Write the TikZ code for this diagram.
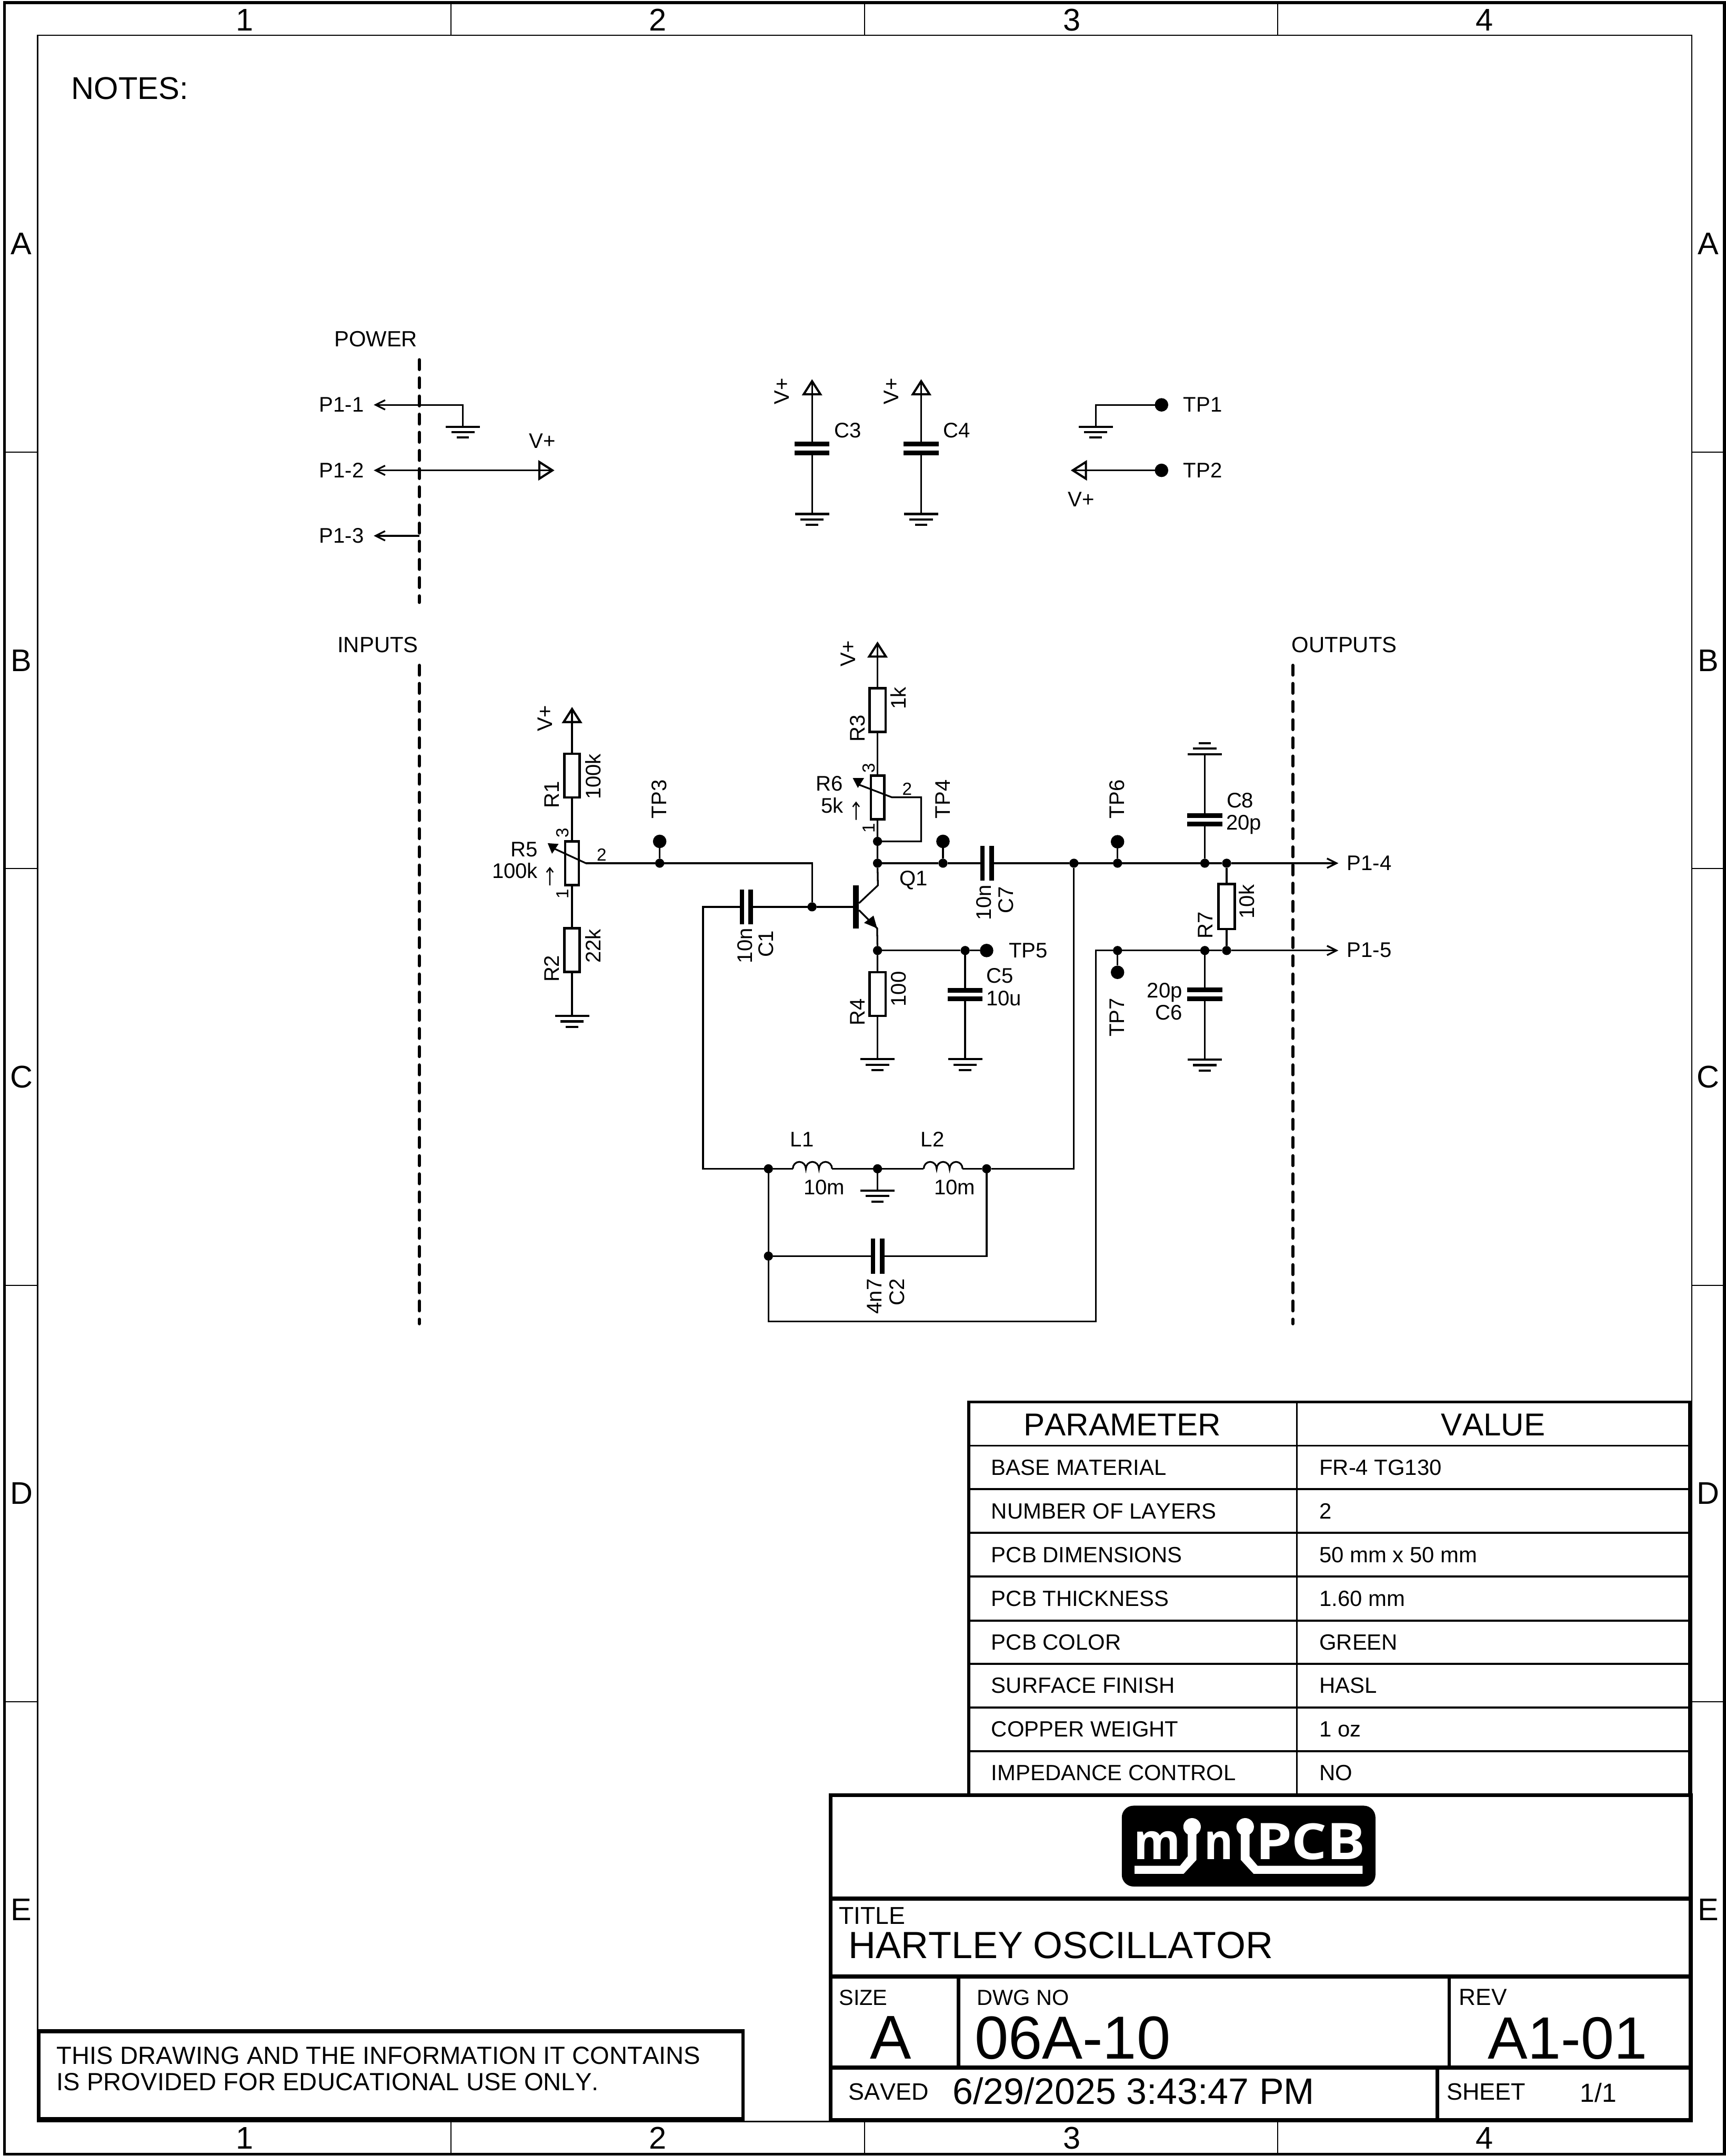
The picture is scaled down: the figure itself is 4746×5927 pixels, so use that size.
\documentclass[tikz,border=0pt]{standalone}
\usepackage{fontspec}
\usepackage{graphicx}
\setmainfont[Kerning=Off]{Liberation Sans}
\newfontfamily\logofont{Open Sans}
\newcommand\pxf[1]{\fontsize{\fpeval{#1*0.28453}}{\fpeval{#1*0.3}}\selectfont}
\tikzset{
  txt/.style={inner sep=0pt,outer sep=0pt,text=black},
  big/.style={txt,font=\pxf{86.5}},
  lab/.style={txt,font=\pxf{58}},
  seclab/.style={txt,font=\pxf{60.5}},
  pinlab/.style={txt,font=\pxf{48}},
  tab/.style={txt,font=\pxf{60.5},anchor=base west},
  tbs/.style={txt,font=\pxf{65},anchor=base west},
  huge/.style={txt,font=\pxf{167},anchor=base west},
  wire/.style={line width=1.35pt,line join=miter},
  thinframe/.style={line width=1.15pt},
  tick/.style={line width=.85pt},
  outerframe/.style={line width=2.2pt},
  heavy/.style={line width=3.2pt},
  medium/.style={line width=2.8pt},
  tableline/.style={line width=1.5pt},
  tableedge/.style={line width=2.3pt},
  dashline/.style={line width=2.5pt,line cap=round,dash pattern=on 7.6pt off 6.6pt},
  jn/.style={circle,fill=black,inner sep=0pt,outer sep=0pt,minimum size=.25cm},
  tpdot/.style={circle,fill=black,inner sep=0pt,outer sep=0pt,minimum size=.37cm},
  resv/.style={rectangle,draw=black,line width=1.8pt,fill=white,inner sep=0pt,outer sep=0pt,minimum width=.42cm,minimum height=1.2cm},
  pot/.style={resv,minimum width=.37cm},
  plateh/.style={rectangle,fill=black,inner sep=0pt,outer sep=0pt,minimum width=.96cm,minimum height=.13cm},
  platev/.style={rectangle,fill=black,inner sep=0pt,outer sep=0pt,minimum width=.12cm,minimum height=.96cm},
  gndline/.style={line width=1.7pt},
  gnd/.pic={\draw[gndline] (-47,0)--(47,0) (-32,15)--(32,15) (-17,30)--(17,30);},
  vplus/.pic={\draw[line width=1.7pt,line join=miter] (0,0)--(-23,36)--(23,36)--cycle;},
  chev/.pic={\draw[wire] (26,-13)--(0,0)--(26,13);},
  smallarrow/.pic={\draw[line width=1pt] (0,0)--(0,-48) (-9,-36)--(0,-48)--(9,-36);},
}
\begin{document}
\begin{tikzpicture}[x=0.01cm,y=-0.01cm]
\useasboundingbox (0,0) rectangle (4746,5927);
% ---------- frame
\draw[outerframe] (12,7) rectangle (4742,5922);
\draw[thinframe] (103,97) rectangle (4652,5832);
\foreach \xx in {1240,2377,3513}{
  \draw[tick] (\xx,7)--(\xx,97);
  \draw[tick] (\xx,5832)--(\xx,5922);
}
\foreach \yy in {1243,2388,3533,4678}{
  \draw[tick] (12,\yy)--(103,\yy);
  \draw[tick] (4652,\yy)--(4742,\yy);
}
\foreach \cx/\cl in {673/1,1809/2,2947/3,4082/4}{
  \node[txt,font=\pxf{86},anchor=base] at (\cx,84) {\cl};
  \node[txt,font=\pxf{86},anchor=base] at (\cx,5908) {\cl};
}
\foreach \ry/\rl in {700/A,1845/B,2990/C,4135/D,5280/E}{
  \node[txt,font=\pxf{86},anchor=base] at (59,\ry) {\rl};
  \node[txt,font=\pxf{86},anchor=base] at (4697,\ry) {\rl};
}
\node[big,anchor=base west] (notes) at (196,273) {NOTES:};
% ---------- section labels and dashed lines
\node[seclab,anchor=base west] (power) at (919,953) {POWER};
\node[seclab,anchor=base west] (inputs) at (928,1793) {INPUTS};
\node[seclab,anchor=base west] (outputs) at (3552,1793) {OUTPUTS};
\coordinate (da1) at (1153,989); \coordinate (da2) at (1153,1656);
\coordinate (db1) at (1153,1829); \coordinate (db2) at (1153,3639);
\coordinate (dc1) at (3555,1829); \coordinate (dc2) at (3555,3639);
\draw[dashline] (da1)--(da2);
\draw[dashline] (db1)--(db2);
\draw[dashline] (dc1)--(dc2);
% ---------- power connector
\coordinate (pa1) at (1033,1113);
\coordinate (pa2) at (1033,1293);
\coordinate (pa3) at (1033,1473);
\coordinate (pe3) at (1153,1473);
\coordinate (g1) at (1273,1173);
\coordinate (v3) at (1519,1293);
\draw[wire] (pa1) -| (g1);
\draw[wire] (pa2) -- (v3);
\draw[wire] (pa3) -- (pe3);
\pic at (pa1) {chev}; \pic at (pa2) {chev}; \pic at (pa3) {chev};
\pic at (g1) {gnd};
\pic[rotate=-90] at (v3) {vplus};
\node[lab,anchor=base west] (tp11) at (878,1133) {P1-1};
\node[lab,anchor=base west] (tp12) at (878,1313) {P1-2};
\node[lab,anchor=base west] (tp13) at (878,1492) {P1-3};
\node[lab,anchor=base west] (tvp3) at (1455,1232) {V+};
% ---------- decoupling caps
\coordinate (v4) at (2233,1048); \coordinate (v6) at (2533,1048);
\coordinate (g2) at (2233,1413); \coordinate (g3) at (2533,1413);
\node[plateh] (c3a) at (2233,1221) {};
\node[plateh] (c3b) at (2233,1245) {};
\node[plateh] (c4a) at (2533,1221) {};
\node[plateh] (c4b) at (2533,1245) {};
\draw[wire] (v4)--(c3a); \draw[wire] (c3b)--(g2);
\draw[wire] (v6)--(c4a); \draw[wire] (c4b)--(g3);
\pic at (v4) {vplus}; \pic at (v6) {vplus};
\pic at (g2) {gnd}; \pic at (g3) {gnd};
\node[lab,rotate=90,anchor=base] (tvc3) at (2170,1076) {V+};
\node[lab,rotate=90,anchor=base] (tvc4) at (2471,1076) {V+};
\node[lab,anchor=base west] (tc3) at (2294,1203) {C3};
\node[lab,anchor=base west] (tc4) at (2594,1203) {C4};
% ---------- TP1, TP2
\node[tpdot] (tp1) at (3194,1113) {};
\node[tpdot] (tp2) at (3194,1293) {};
\coordinate (g4) at (3013,1173);
\coordinate (v5) at (2950,1293);
\draw[wire] (tp1) -| (g4);
\draw[wire] (tp2) -- (v5);
\pic at (g4) {gnd};
\pic[rotate=90] at (v5) {vplus};
\node[lab,anchor=base west] (ttp1) at (3254,1133) {TP1};
\node[lab,anchor=base west] (ttp2) at (3254,1313) {TP2};
\node[lab,anchor=base west] (tvp5) at (2937,1393) {V+};
% ---------- bias divider
\coordinate (v1) at (1573,1949);
\node[resv] (R1) at (1573,2132) {};
\node[pot] (R5) at (1573,2373) {};
\node[resv] (R2) at (1573,2612) {};
\coordinate (g5) at (1573,2793);
\draw[wire] (v1)--(R1.north);
\draw[wire] (R1.south)--(R5.north);
\draw[wire] (R5.south)--(R2.north);
\draw[wire] (R2.south)--(g5);
\pic at (v1) {vplus};
\pic at (g5) {gnd};
\coordinate (w5) at (1611,2373);
\coordinate (w5t) at (1520,2331);
\fill (1506,2318)--(1536,2320)--(1518,2347)--cycle;
\draw[wire] (w5t)--(w5);
\pic at (1512,2434) {smallarrow};
\node[tpdot] (tp3) at (1814,2313) {};
\node[jn] (j3) at (1814,2373) {};
\node[jn] (jB) at (2233,2493) {};
\draw[wire] (tp3)--(j3);
\draw[wire] (w5)--(j3) -| (jB);
% ---------- C1 and base
\node[platev] (c1a) at (2040,2493) {};
\node[platev] (c1b) at (2064,2493) {};
\node[rectangle,fill=black,inner sep=0pt,outer sep=0pt,minimum width=.17cm,minimum height=1.18cm] (qbar) at (2353.5,2493) {};
\draw[wire] (c1b)--(jB)--(qbar);
% ---------- collector side
\coordinate (v2) at (2413,1769);
\node[resv,minimum width=.44cm] (R3) at (2413,1952) {};
\node[pot] (R6) at (2413,2192) {};
\node[jn] (j6) at (2413,2313) {};
\node[jn] (j7) at (2413,2373) {};
\coordinate (cq) at (2414,2434); \coordinate (cb) at (2362,2483);
\draw[wire] (v2)--(R3.north);
\draw[wire] (R3.south)--(R6.north);
\draw[wire] (R6.south)--(j6)--(j7)--(cq)--(cb);
\pic at (v2) {vplus};
\coordinate (w6t) at (2359,2156);
\coordinate (w6) at (2453,2192);
\coordinate (w6c) at (2533,2192);
\fill (2345,2139)--(2376,2139)--(2359,2166)--cycle;
\draw[wire] (w6t)--(w6)--(w6c) |- (j6);
\pic at (2354,2254) {smallarrow};
% ---------- emitter side
\coordinate (eb) at (2362,2502); \coordinate (ce) at (2412,2552);
\fill (2412,2552)--(2376,2537)--(2402,2517)--cycle;
\node[jn] (jEm) at (2413,2613) {};
\node[jn] (jT5) at (2654,2613) {};
\node[tpdot] (tp5) at (2713,2613) {};
\node[resv,minimum width=.44cm] (R4) at (2413,2733) {};
\coordinate (g6) at (2413,2912);
\coordinate (g7) at (2654,2912);
\node[plateh] (c5a) at (2654,2723) {};
\node[plateh] (c5b) at (2654,2745) {};
\draw[wire] (eb)--(ce)--(jEm)--(R4.north);
\draw[wire] (R4.south)--(g6);
\draw[wire] (jEm)--(jT5)--(tp5);
\draw[wire] (jT5)--(c5a);
\draw[wire] (c5b)--(g7);
\pic at (g6) {gnd}; \pic at (g7) {gnd};
% ---------- output rail
\node[tpdot] (tp4) at (2593,2313) {};
\node[jn] (j9) at (2593,2373) {};
\node[platev] (c7a) at (2702,2373) {};
\node[platev] (c7b) at (2727,2373) {};
\node[jn] (jA) at (2953,2373) {};
\node[jn] (jC) at (3073,2373) {};
\node[tpdot] (tp6) at (3073,2314) {};
\node[jn] (jD) at (3313,2373) {};
\node[jn] (jE) at (3373,2373) {};
\coordinate (pa4) at (3675,2373);
\coordinate (pa5) at (3675,2613);
\draw[wire] (j7)--(j9)--(c7a);
\draw[wire] (tp4)--(j9);
\draw[wire] (c7b)--(jA)--(jC)--(jD)--(jE)--(pa4);
\draw[wire] (tp6)--(jC);
\pic[rotate=180] at (pa4) {chev};
\pic[rotate=180] at (pa5) {chev};
\node[plateh] (c8a) at (3313,2242) {};
\node[plateh] (c8b) at (3313,2265) {};
\coordinate (g8) at (3313,2073);
\draw[wire] (jD)--(c8b);
\draw[wire] (c8a)--(g8);
\pic[rotate=180] at (g8) {gnd};
\node[resv,minimum width=.45cm,minimum height=1.23cm] (R7) at (3373,2492) {};
\node[jn] (jF) at (3373,2613) {};
\node[jn] (jG) at (3313,2613) {};
\node[jn] (jH) at (3073,2613) {};
\node[tpdot] (tp7) at (3073,2673) {};
\draw[wire] (jE)--(R7.north);
\draw[wire] (R7.south)--(jF);
\draw[wire] (pa5)--(jF)--(jG)--(jH);
\draw[wire] (jH)--(tp7);
\node[plateh] (c6a) at (3313,2721) {};
\node[plateh] (c6b) at (3313,2745) {};
\coordinate (g9) at (3313,2913);
\draw[wire] (jG)--(c6a);
\draw[wire] (c6b)--(g9);
\pic at (g9) {gnd};
% ---------- tank circuit
\node[jn] (j5) at (2113,3213) {};
\node[jn] (j8) at (2413,3213) {};
\node[jn] (j10) at (2713,3213) {};
\node[jn] (j11) at (2113,3453) {};
\coordinate (lw) at (1933,3213);
\coordinate (l1a) at (2180,3213); \coordinate (l1b) at (2288,3213);
\coordinate (l2a) at (2540,3213); \coordinate (l2b) at (2647,3213);
\coordinate (g10) at (2413,3273);
\coordinate (kd) at (3013,3633);
\node[platev] (c2a) at (2401,3453) {};
\node[platev] (c2b) at (2426,3453) {};
\draw[wire] (c1a) -| (lw) -- (j5);
\draw[wire] (j5)--(l1a);
\draw[wire] (l1a) arc[start angle=180,end angle=0,x radius=.18cm,y radius=.19cm]
                 arc[start angle=180,end angle=0,x radius=.18cm,y radius=.19cm]
                 arc[start angle=180,end angle=0,x radius=.18cm,y radius=.19cm];
\draw[wire] (l1b)--(j8)--(l2a);
\draw[wire] (l2a) arc[start angle=180,end angle=0,x radius=.178cm,y radius=.19cm]
                 arc[start angle=180,end angle=0,x radius=.178cm,y radius=.19cm]
                 arc[start angle=180,end angle=0,x radius=.178cm,y radius=.19cm];
\draw[wire] (l2b)--(j10);
\draw[wire] (jA) |- (j10);
\draw[wire] (j8)--(g10);
\pic at (g10) {gnd};
\draw[wire] (j5)--(j11)--(c2a);
\draw[wire] (c2b) -| (j10);
\draw[wire] (jH) -| (kd) -| (j11);
% ---------- component labels, upright
\node[lab,anchor=base west] (tR5) at (1405,2355) {R5};
\node[lab,anchor=base west] (t100k5) at (1353,2415) {100k};
\node[pinlab,anchor=base west] (p52) at (1641,2366) {2};
\node[lab,anchor=base west] (tQ1) at (2473,2434) {Q1};
\node[lab,anchor=base west] (tR6) at (2244,2174) {R6};
\node[lab,anchor=base west] (t5k) at (2258,2235) {5k};
\node[pinlab,anchor=base west] (p62) at (2481,2185) {2};
\node[lab,anchor=base west] (ttp5) at (2774,2633) {TP5};
\node[lab,anchor=base west] (tc5) at (2712,2703) {C5};
\node[lab,anchor=base west] (t10u) at (2712,2764) {10u};
\node[lab,anchor=base west] (tc8) at (3373,2221) {C8};
\node[lab,anchor=base west] (t20p8) at (3372,2281) {20p};
\node[lab,anchor=base east] (t20p6) at (3251,2743) {20p};
\node[lab,anchor=base east] (tc6) at (3251,2804) {C6};
\node[lab,anchor=base west] (tp14) at (3704,2392) {P1-4};
\node[lab,anchor=base west] (tp15) at (3704,2632) {P1-5};
\node[lab,anchor=base west] (tl1) at (2173,3153) {L1};
\node[lab,anchor=base west] (tl2) at (2532,3153) {L2};
\node[lab,anchor=base west] (tm1) at (2210,3284) {10m};
\node[lab,anchor=base west] (tm2) at (2569,3284) {10m};
% ---------- component labels, rotated
\node[lab,rotate=90,anchor=base] (tv1) at (1518,1975) {V+};
\node[lab,rotate=90,anchor=base] (tR1) at (1537,2185) {R1};
\node[lab,rotate=90,anchor=base] (t100k) at (1652,2135) {100k};
\node[pinlab,rotate=90,anchor=base] (p53) at (1563,2290) {3};
\node[pinlab,rotate=90,anchor=base] (p51) at (1563,2458) {1};
\node[lab,rotate=90,anchor=base] (tR2) at (1537,2663) {R2};
\node[lab,rotate=90,anchor=base] (t22k) at (1652,2601) {22k};
\node[lab,rotate=90,anchor=base] (ttp3) at (1833,2197) {TP3};
\node[lab,rotate=90,anchor=base] (t10n1) at (2068,2600) {10n};
\node[lab,rotate=90,anchor=base] (tc1) at (2126,2595) {C1};
\node[pinlab,rotate=90,anchor=base] (p63) at (2405,2111) {3};
\node[pinlab,rotate=90,anchor=base] (p61) at (2405,2276) {1};
\node[lab,rotate=90,anchor=base] (ttp4) at (2613,2197) {TP4};
\node[lab,rotate=90,anchor=base] (tv2) at (2352,1797) {V+};
\node[lab,rotate=90,anchor=base] (tR3) at (2378,2002) {R3};
\node[lab,rotate=90,anchor=base] (t1k) at (2491,1919) {1k};
\node[lab,rotate=90,anchor=base] (tR4) at (2378,2783) {R4};
\node[lab,rotate=90,anchor=base] (t100) at (2491,2719) {100};
\node[lab,rotate=90,anchor=base] (t10n7) at (2725,2481) {10n};
\node[lab,rotate=90,anchor=base] (tc7) at (2786,2474) {C7};
\node[lab,rotate=90,anchor=base] (ttp6) at (3092,2197) {TP6};
\node[lab,rotate=90,anchor=base] (ttp7) at (3092,2797) {TP7};
\node[lab,rotate=90,anchor=base] (tR7) at (3335,2543) {R7};
\node[lab,rotate=90,anchor=base] (t10k) at (3449,2479) {10k};
\node[lab,rotate=90,anchor=base] (t4n7) at (2424,3564) {4n7};
\node[lab,rotate=90,anchor=base] (tc2) at (2486,3552) {C2};
% ---------- parameter table
\foreach \yy in {3974,4094,4214,4334,4455,4574,4694,4814}{
  \draw[tableline] (2664,\yy)--(4646,\yy);
}
\draw[tableline] (3566,3854)--(3566,4934);
\draw[tableedge] (2664,4934)--(2664,3854)--(4646,3854)--(4646,4934);
\node[txt,font=\pxf{87},anchor=base] (tpar) at (3086,3946) {PARAMETER};
\node[txt,font=\pxf{87},anchor=base] (tval) at (4106,3946) {VALUE};
\foreach \yy/\aa/\bb in {4055/BASE MATERIAL/FR-4 TG130,4175/NUMBER OF LAYERS/2,4295/PCB DIMENSIONS/50 mm x 50 mm,4415/PCB THICKNESS/1.60 mm,4535/PCB COLOR/GREEN,4655/SURFACE FINISH/HASL,4775/COPPER WEIGHT/1 oz,4895/IMPEDANCE CONTROL/NO}{
  \node[tab] at (2726,\yy) {\aa};
  \node[tab] at (3628,\yy) {\bb};
}
% ---------- title block
\draw[heavy] (2284,4935) rectangle (4649,5828);
\draw[heavy] (2284,5219)--(4649,5219);
\draw[heavy] (2284,5434)--(4649,5434);
\draw[heavy] (2284,5684)--(4649,5684);
\draw[medium] (2636,5434)--(2636,5684);
\draw[medium] (3985,5434)--(3985,5684);
\draw[medium] (3952,5684)--(3952,5828);
\node[txt,font=\pxf{67},anchor=base west] (ttitle) at (2307,5289) {TITLE};
\node[txt,font=\pxf{104},anchor=base west] (tname) at (2333,5384) {HARTLEY OSCILLATOR};
\node[txt,font=\pxf{60},anchor=base west] (tsize) at (2307,5512) {SIZE};
\node[txt,font=\pxf{170},anchor=base] (tsa) at (2449,5660) {A};
\node[txt,font=\pxf{60},anchor=base west] (tdwg) at (2686,5512) {DWG NO};
\node[huge] (tdn) at (2680,5660) {06A-10};
\node[txt,font=\pxf{64},anchor=base west] (trev) at (4012,5513) {REV};
\node[txt,font=\pxf{164},anchor=base east] (trn) at (4530,5660) {A1-01};
\node[tbs] (tsaved) at (2333,5773) {SAVED};
\node[txt,font=\pxf{101},anchor=base west] (tdate) at (2620,5784) {6/29/2025 3:43:47 PM};
\node[tbs] (tsheet) at (3978,5773) {SHEET};
\node[txt,font=\pxf{72},anchor=base west] (tsn) at (4345,5779) {1/1};
% ---------- logo
\node[rectangle,fill=black,rounded corners=.32cm,inner sep=0pt,outer sep=0pt,minimum width=6.97cm,minimum height=2.22cm] (logo) at (3433.5,5075) {};
\fill[white] (3278,5022) circle[radius=.24cm];
\fill[white] (3424,5022) circle[radius=.24cm];
\fill[white] (3266,5030)--(3266,5103)--(3245,5129)--(3120,5129)--(3120,5151)--(3255,5151)--(3290,5113)--(3290,5030)--cycle;
\fill[white] (3412,5030)--(3412,5113)--(3447,5151)--(3747,5151)--(3747,5129)--(3458,5129)--(3436,5103)--(3436,5030)--cycle;
\node[txt,text=white,anchor=base west] (lm) at (3117,5112) {\resizebox{1.29cm}{.77cm}{\logofont\bfseries m}};
\node[txt,text=white,anchor=base west] (ln) at (3312,5112) {\resizebox{.80cm}{.77cm}{\logofont\bfseries n}};
\node[txt,text=white,anchor=base west] (lp) at (3453,5112) {\resizebox{1.00cm}{.99cm}{\logofont\bfseries P}};
\node[txt,text=white,anchor=base west] (lc) at (3552,5112) {\resizebox{.97cm}{.99cm}{\logofont\bfseries C}};
\node[txt,text=white,anchor=base west] (lb) at (3649,5112) {\resizebox{1.06cm}{.99cm}{\logofont\bfseries B}};
% ---------- disclaimer
\draw[line width=2.6pt] (107,5826)--(107,5584)--(2043,5584)--(2043,5826);
\draw[line width=3.4pt] (103,5584)--(2047,5584);
\draw[line width=3.4pt] (103,5826)--(2047,5826);
\node[txt,font=\pxf{68.2},anchor=base west] (dis1) at (156,5674) {THIS DRAWING AND THE INFORMATION IT CONTAINS};
\node[txt,font=\pxf{68.2},anchor=base west] (dis2) at (156,5747) {IS PROVIDED FOR EDUCATIONAL USE ONLY.};
\end{tikzpicture}
\end{document}
